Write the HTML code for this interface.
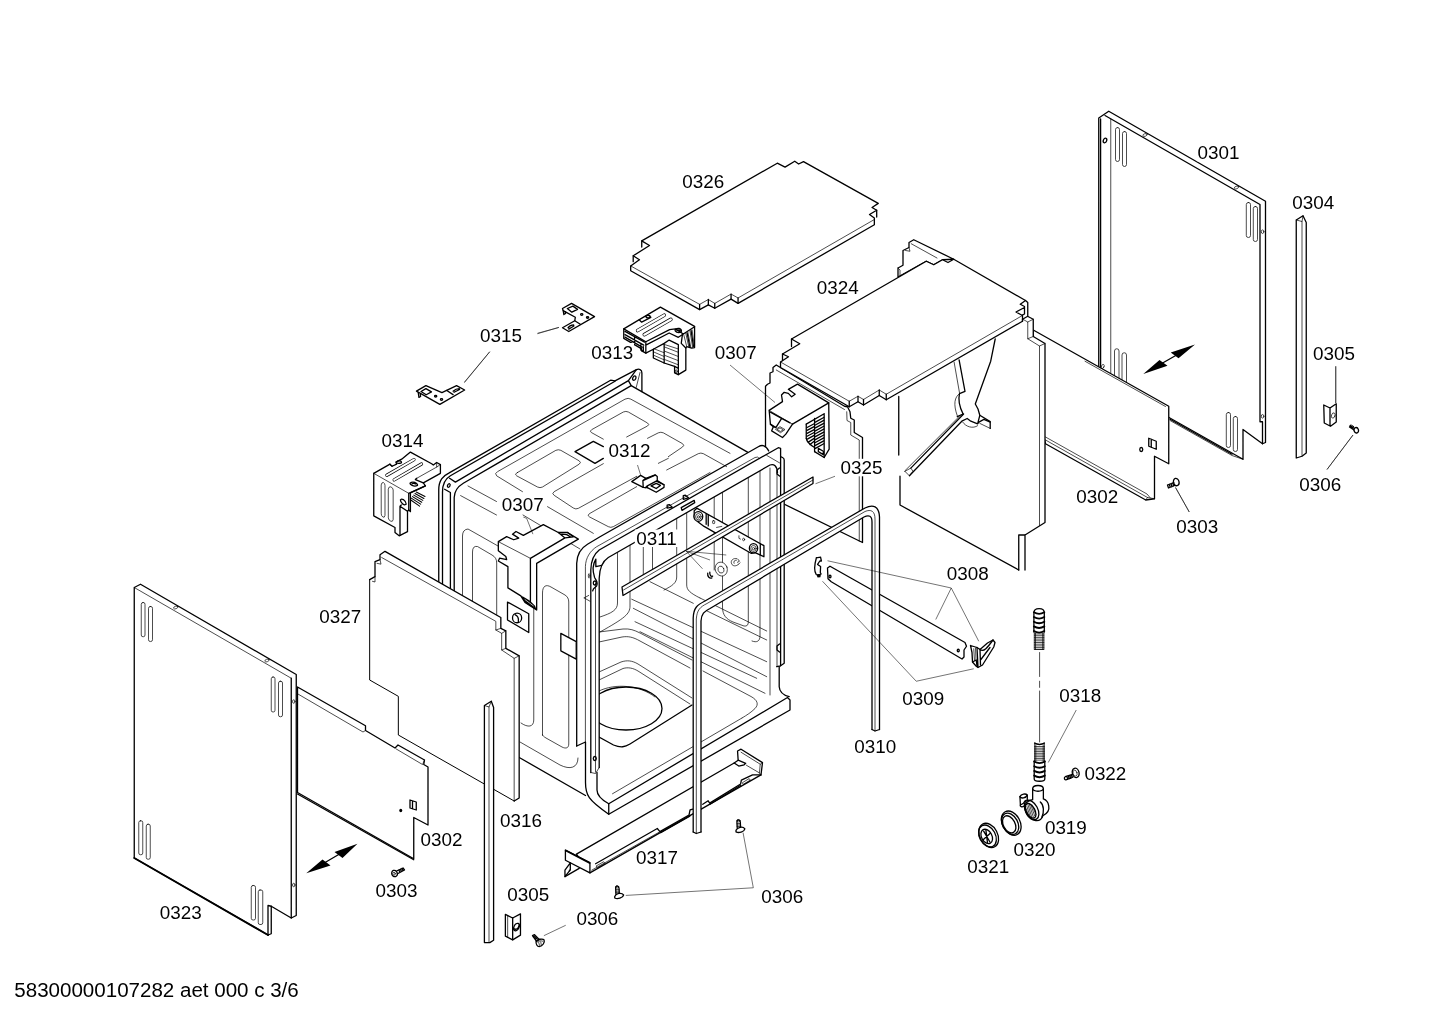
<!DOCTYPE html>
<html><head><meta charset="utf-8"><title>Parts diagram</title>
<style>
html,body{margin:0;padding:0;background:#fff;}
svg{display:block;}
.k{fill:none;stroke:#000;stroke-width:1.3;vector-effect:non-scaling-stroke;stroke-linejoin:round;stroke-linecap:round;}
.n{fill:none;stroke:#000;stroke-width:0.7;vector-effect:non-scaling-stroke;stroke-linejoin:round;stroke-linecap:round;}
.l{fill:none;stroke:#000;stroke-width:0.55;vector-effect:non-scaling-stroke;}
.w{fill:#fff;}
.so{fill:none;stroke:#000;stroke-linecap:round;vector-effect:non-scaling-stroke;}
.si{fill:none;stroke:#fff;stroke-linecap:round;vector-effect:non-scaling-stroke;}
.b{fill:#000;stroke:none;}
text{font-family:"Liberation Sans",sans-serif;font-size:18.5px;fill:#000;}
</style></head>
<body>
<svg width="1442" height="1019" viewBox="0 0 1442 1019">
<rect width="1442" height="1019" fill="#fff"/>
<!--P1-->
<!-- 0326 top plate : view origin (620,150) scale 1/5.15 -->
<g transform="translate(620 150) scale(0.19417)">
<path class="k" d="M55,597 L100,565 L68,545 L152,492 L112,468 L810,68 L850,88 L900,58 L920,72 L945,60 L1330,275 L1298,296 L1322,310 L1285,332 L1310,350 L1310,385 L608,790 L572,768 L488,815 L455,798 L410,822 L55,622 Z"/>
<path class="n" d="M55,597 L410,795 L455,770 L488,790 L572,742 L608,762 L1310,358"/>
<path class="k" d="M410,795 V822 M455,770 V798 M488,790 V815 M572,742 V768 M608,762 V790 M1322,310 V345 M112,468 V500 M68,545 V575"/>
</g>

<!-- 0301 right side panel (actual coords) -->
<g>
<path class="k" d="M1098.75,367 V118 L1108.75,111.25 L1265.5,201.25 V442.5 L1262.5,443.75 L1243,429.5 V459.25 L1169,417.5"/>
<path class="k" d="M1100.6,368 V119"/>
<path class="k" d="M1105,115.5 L1260,204.5 V421.75 H1262.5 V443.75"/>
<path class="n" d="M1110.75,373 V119"/>
<path class="n" d="M1170,420.5 L1232,455.5 L1243,459.25"/>
<path class="k" d="M1170,419.3 L1232,454.3"/>
<!-- slots -->
<rect class="n" x="1115.5" y="127.5" width="4" height="34" rx="2"/>
<rect class="n" x="1122.5" y="131.5" width="4" height="35" rx="2"/>
<rect class="n" x="1246.3" y="202.5" width="4.2" height="35" rx="2"/>
<rect class="n" x="1253.3" y="206.5" width="4.2" height="35" rx="2"/>
<path class="n" d="M1114.5,377 V351 a2.2,2.2 0 0 1 4.5,0 V380 M1122,382 V355 a2.2,2.2 0 0 1 4.5,0 V385"/>
<rect class="n" x="1226.3" y="412.5" width="4.2" height="35" rx="2"/>
<rect class="n" x="1233.3" y="416.5" width="4.2" height="35" rx="2"/>
<ellipse class="k" cx="1105" cy="140.5" rx="1.6" ry="2.4" transform="rotate(25 1105 140.5)"/>
<ellipse class="n" cx="1145" cy="135" rx="2.2" ry="1.3" transform="rotate(-20 1145 135)"/>
<ellipse class="n" cx="1236.5" cy="187.5" rx="2.2" ry="1.3" transform="rotate(-20 1236.5 187.5)"/>
<ellipse class="n" cx="1262.6" cy="231.7" rx="1.3" ry="1.8"/>
<ellipse class="n" cx="1262.6" cy="416.3" rx="1.3" ry="1.8"/>
<ellipse class="n" cx="1102.7" cy="366.5" rx="1.3" ry="2.2" transform="rotate(25 1102.7 366.5)"/>
</g>

<!-- 0304 strip -->
<g>
<path class="k" d="M1296.25,220 V458 L1302,456.25 L1306.25,453 V222.5 L1303,215.75 Z"/>
<path class="n" d="M1302,221.5 V456 M1296.25,220 L1302,221.5 L1303,215.75"/>
</g>

<!-- view B: origin (1060,300) scale .25 : 0302R, 0303R, 0305R, 0306R, arrow -->
<g transform="translate(1060 300) scale(0.25)">
<!-- arrow -->
<path class="b" d="M333,296 L398,240 L430,263 Z M540,178 L443,210 L474,233 Z"/>
<path class="k" d="M400,258 L470,218"/>
<!-- 0305 clip -->
<path class="k" d="M1055,420 L1080,432 L1105,415 V488 L1082,505 L1057,492 Z M1080,432 V503"/>
<ellipse class="n" cx="1093" cy="462" rx="7" ry="11" transform="rotate(20 1093 462)"/>
<path class="l" d="M1103,265 V412"/>
<!-- 0306 screw -->
<ellipse class="k" cx="1185" cy="521" rx="9" ry="11" transform="rotate(-20 1185 521)"/>
<path class="k" d="M1160,503 L1178,514 M1158,508 L1176,520 M1164,500 l-5,8 M1169,503 l-5,8 M1174,506 l-5,8"/>
<path class="l" d="M1172,540 L1068,678"/>
<!-- 0303 screw -->
<ellipse class="k" cx="465" cy="728" rx="11" ry="15" transform="rotate(-15 465 728)"/>
<path class="k" d="M430,740 L455,730 M434,752 L458,742 M430,740 L434,752 M437,737 l4,12 M444,735 l4,12 M451,732 l4,12"/>
<path class="l" d="M462,750 L517,848"/>
</g>

<!--/P1-->
<!--P2-->
<!-- 0302 right : view C origin (860,300) scale .25 -->
<g transform="translate(860 300) scale(0.25)">
<path class="k w" d="M693,120 L1235,425 V655 L1178,625 V795 L1143,800 L742,575 L700,400 Z"/>
<path class="n" d="M742,548 L1148,776 L1160,790 M742,560 L1150,790 L1143,800 M1150,790 L1178,795"/>
<path class="n" d="M900,245 L1222,426"/>
<ellipse class="k" cx="1125" cy="598" rx="6" ry="8"/>
<path class="k" d="M1155,553 L1185,565 V597 L1155,585 Z M1165,557 V589"/>
</g>

<!-- 0324 : view D origin (750,220) scale .25 -->
<g transform="translate(750 220) scale(0.25)">
<!-- left wall (front-left) -->
<path class="k w" d="M105,580 L92,590 V607 L80,612 V652 L70,657 L62,665 V1100 L450,1290 V870 L417,850 V800 L403,793 L400,767 L390,747 L378,745 Z"/>

<path class="n" d="M437,1285 V880 L403,860 V810 L388,802 L387,767"/>
<path class="n" d="M105,600 L378,758"/>
<!-- back wall inner face + column fill -->
<path class="w" d="M595,700 V1135 L1075,1400 H1100 V1260 L1180,1210 V494 L1133,466 V397 L1110,385 L1090,381 Z"/>
<path class="k" d="M595,706 V940 M600,1025 V1140 L1075,1400"/>
<!-- rear wall top piece -->
<path class="k w" d="M592,228 V192 L612,181 V122 L636,110 V90 L655,79 L815,157 L770,159 L735,179 L705,165 Z"/>
<path class="n" d="M645,95 L748,152 M636,110 L640,125 L622,122 M592,192 L600,200 V222"/>
<!-- end column (right) -->
<path class="k" d="M1110,385 L1133,397 V466 L1180,494 V1210 L1100,1260 H1075 V1400 M1100,1260 V1400"/>
<path class="n" d="M1093,398 L1111,408 V475 L1158,504 V1222 M1111,408 L1133,397 M1111,475 L1133,466 M1158,504 L1180,494"/>
<!-- top plate -->
<path class="k w" d="M122,568 L154,547 L130,536 L199,495 L166,476 L705,165 L735,179 L770,159 L792,170 L815,157 L1102,322 L1111,330 V385 L1090,397 V405 L545,719 L517,702 L454,740 L432,727 L397,747 L122,590 Z"/>
<path class="k" d="M1102,322 L1081,337 L1098,346 V376 L1088,381 L1064,368 L1098,350"/>
<path class="n" d="M122,568 L397,725 L432,705 L454,718 L517,680 L545,697 L1088,383"/>
<path class="k" d="M397,725 V747 M432,705 V727 M454,718 V740 M517,680 V702 M545,697 V719 M1090,381 V405 M166,476 V506 M130,536 V562"/>
</g>
<!-- 0324 inner features (actual coords) -->
<g>
<path class="n" d="M954.1,362.1 L959.5,392.8 M959.5,393.7 C954.6,397 953,404 957.3,415.8 M904.9,470.8 L959.5,416.2 M962.7,422.1 C966,427 973,429 977.6,425.7 M979.8,423.4 L990.2,428.4"/>
<path class="k" d="M959.1,359.8 L965,391.4 L959.5,393.7 C958,400 960,408 963.1,414 L957.3,416.7"/>
<path class="k" d="M995.2,339 L990.7,361.2 L975.3,404 L978,409 L979.8,415.3 L990.2,421.6 V428.4"/>
<path class="k" d="M910.8,468.1 L963.6,414 M909.4,475.8 L961.8,421.2 L967.2,418.5 L970.8,421.2 L977.6,423.9 L978.9,422.1 L983.9,419.4 L990.2,422.1 M977.6,423.9 L979.8,415.3"/>
<path class="n" d="M904.9,471.3 L909.4,475.8 L913,471.3 L910.8,468.1 L904.9,471.3"/>
</g>

<!--/P2-->
<!--S2-->
<!-- 0307 top : view S2 origin (755,360) scale 1/12 -->
<g transform="translate(755 360) scale(0.08333)">
<path class="w" d="M170,605 L330,500 L318,420 L350,388 L400,400 L440,442 L482,412 L400,352 L510,290 L885,515 L890,1070 L830,1170 L715,1100 L615,940 V770 L450,770 L370,890 L330,930 L200,850 L220,800 L185,770 Z"/>
<path class="k" d="M450,770 L370,890 L330,930 L200,850 L220,800 L185,770 L170,605 L330,500 L318,420 L350,388 L400,400 L440,442 L482,412 L400,352 L510,290 L885,515 L890,1070 L830,1170 L715,1100 M615,940 V770"/>
<path class="n" d="M450,770 L170,605"/>
<path class="k" d="M885,515 L450,770 M715,700 V1100 M830,645 V1170 M615,770 L830,645"/>
<path class="k" d="M185,770 L250,812 L320,700 L420,755 M250,812 L220,800 M320,700 L185,625"/>
<path class="n" d="M250,830 L300,800 L360,835 L310,870 Z M268,832 L300,815 L340,838 L310,855 Z"/>
<path class="k" d="M615,940 C620,980 650,1010 715,1050"/>
<path class="k" d="M625,810 L710,765 M625,845 L710,800 M625,880 L710,835 M625,915 L710,870 M628,950 L710,905 M640,985 L710,940 M660,1015 L710,975 M725,745 L825,690 M725,780 L825,725 M725,815 L825,760 M725,850 L825,795 M725,885 L825,830 M725,920 L825,865 M725,955 L825,900 M725,990 L825,935 M725,1025 L825,970 M725,1060 L825,1005"/>
<path class="k" d="M760,1060 L820,1095 V1135 L760,1100 Z"/>
</g>

<!--/S2-->

<!--TUB-->
<!-- TUB body -->
<g>
<!-- white silhouette -->
<path class="w" d="M438.75,700 V490 C438.75,480 443,476 449.2,472.9 L610.6,380.2 L636.4,369.7 L641.9,373 V390 L747.5,452.1 L768.75,446 L780.4,448.3 L784.2,460 V663.3 L779.2,667 V686.7 L789.2,696.7 V707.5 L608.75,814.25 L590,800 L519,757 Z"/>
<!-- rear-left flange -->
<path class="k" d="M438.75,700 V490 C438.75,480 443,476 449.2,472.9 L610.6,380.2 L615,380.8 L636.4,369.7 C639,368.5 641.9,369.5 641.9,373 V391.5"/>
<path class="k" d="M442.5,700 V492 C442.5,484 445,479 450.4,475.8 L615,381.2"/>
<path class="k" d="M449.6,478.3 L455.4,482.1 L628.4,380.6 L636.4,369.7 M628.4,380.6 L631.2,385.6"/>
<path class="k" d="M454.2,700 V497.5 C454.5,490 458,486.5 463.3,483.3 L631.2,385.6 L747.5,452.1"/>
<path class="k" d="M450.4,700 V492.5 L444.6,489.2"/>
<ellipse class="k" cx="448.8" cy="485.5" rx="1.2" ry="1.9" transform="rotate(25 448.8 485.5)"/>
<ellipse class="k" cx="634.3" cy="378.1" rx="1.5" ry="2.3" transform="rotate(25 634.3 378.1)"/>
<path class="n" d="M640,372.5 L636.2,387.5"/>
<!-- front frame -->
<path class="k" d="M576.7,746 V563.3 C577,553 581,548 587.5,544.2 L600,536.7 L758.3,446.7 C762,444.5 766,445 768.75,451"/>
<path class="n" d="M585.4,743 V566.7 C585.6,558 590,551 596.7,546.7 L755,457.5 Q758,456 759.5,458.5"/>
<path class="k" d="M590.8,772.5 V570 C591,560 594,554 599.2,550 L778.3,447.7 L780.6,448.3 V665.8"/>
<path class="k" d="M599.2,767.5 V578.3 C599.5,568 603,561 608.3,557.5 L770,465 C774,463.5 777,466 777.5,472.5"/>
<path class="n" d="M777,472 V666.7 M766.7,455.4 L779.6,462.9"/>
<path class="k" d="M780.6,456.7 L782.5,457.5 C783.6,458 784.2,459 784.2,460 V663.3 L780.6,665.8 L776.7,666.7"/>
<path class="n" d="M595.5,583 V772 M590.8,772.5 L595.5,773.5 L599.2,767.5"/>
<ellipse class="k" cx="594.8" cy="583" rx="1.5" ry="2"/>
<ellipse class="k" cx="594.8" cy="758.5" rx="1.5" ry="2"/>
<path class="k" d="M779.5,644 l-2.5,2 l0,4 l2.5,2 M779.5,468 l-2.5,2 l0,4 l2.5,2"/>
<!-- lower left column + base -->
<path class="k" d="M576.7,746 L585.5,742 V782.5 C585.5,795 588,800 608.75,814.25 L790,710 V700 L787.5,697.5 L608.75,803.75 C600,799 597,795 597,790 V772.5"/>
<path class="k" d="M608.75,803.75 V814.25 M779.2,666.7 V686.7 C779.5,692 783,695 789.2,696.7"/>
<path class="n" d="M612.5,793.75 L742,718"/>
<!-- side bottom edge -->
<path class="k" d="M519.25,757.5 L585.5,795.5"/>
<!-- side panels (thin) -->
<path class="n" d="M518,575 C528,580 533.75,578 533.75,590 V720 C533.75,727 528,728 521,723"/>
<path class="n" d="M542.5,735 V593 C542.5,586 546,584 551,587 L565,595 C567.5,596.5 568.75,599 568.75,602 V744 C568.75,748 566,749 562,747 L546,738 C543.5,736.5 542.5,735.5 542.5,735 Z"/>
<path class="n" d="M520,742 L560,765 C570,770 578,768 578,758"/>
<!-- thin top-left borders -->
<path class="n" d="M468,486 L496.5,501.5 M523,515 L580,549 M460.6,495.6 L496.5,515"/>
</g>
<!-- side panel extra -->
<g>
<path class="n" d="M462.5,640 V536 Q462.5,529.5 468,529 L528,563 M472.5,640 V552 Q472.5,545.5 477.5,546.5 L492,555 Q496.7,557.5 496.7,563 V640"/>
</g>
<!-- hinge details : view T5a origin (560,520) scale 1/12 -->
<g transform="translate(560 520) scale(0.08333)">
<path class="k" d="M430,470 V560 L500,545 M430,470 C400,520 385,600 415,690 C440,730 455,750 440,790 C425,810 400,810 392,850"/>
<ellipse class="n" cx="350" cy="670" rx="10" ry="28"/>
<path class="n" d="M290,935 L360,975 M290,935 L345,905"/>
</g>
<!-- top-surface thin panels : view T6 origin (470,385) scale 1/6 -->
<g transform="translate(470 385) scale(0.16667)">
<path class="n" d="M740,890 L465,730 M315,640 L160,545 Q145,530 165,520 L930,85 Q950,75 965,85 L1560,410"/>
<path class="n" d="M285,525 L515,392 Q530,385 545,392 L655,455 Q670,465 655,475 L435,612 Q420,620 405,612 L280,545 Q265,535 285,525 Z"/>
<path class="k" d="M800,370 L740,338 L630,400 L750,470 L800,440"/>
<path class="n" d="M800,325 L728,285 Q715,277 730,268 L920,162 Q935,155 950,162 L1065,228 Q1080,238 1065,246 L940,312"/>
<path class="n" d="M1065,320 L1130,287 Q1145,280 1160,287 L1275,352 Q1290,362 1275,372 L1190,430"/>
<path class="n" d="M800,472 L505,640 Q488,652 505,662 L620,738 Q635,748 650,740 L1000,548 M1130,470 L1190,440"/>
<path class="n" d="M1000,610 L720,770 Q700,782 718,792 L830,850 Q845,858 860,850 L1440,525 M1180,510 L1370,412 Q1385,405 1400,412 L1540,490"/>
</g>
<!-- tub interior (clipped to opening) -->
<defs><clipPath id="open"><path d="M599.2,578 C599.5,568 603,561 608.3,557.5 L770,465 C774,463.5 777,466 777.5,472.5 V666 L779,687 L787,697.5 L608.75,803.75 L597,790 V770 L599.2,767 Z"/></clipPath></defs>
<g clip-path="url(#open)">
<!-- back wall vertical panel lines -->
<path class="n" d="M617.5,540 V603 C617.5,610 612,613 600,617 M630,530 V606 C630,614 625,618 600,632"/>
<path class="n" d="M643.3,520 V583 M652.5,515 V578 M676.7,505 V577 C676.7,583 672,586 664,590 M686.7,500 V585 C686.7,590 690,593 700,598"/>
<path class="n" d="M714.2,485 V570 M722.5,480 V607 C722.5,615 726,619 733,622 L744,626 C747,626.5 748.3,625 748.3,622 V468"/>
<path class="n" d="M760,465 V636 C760,641 757,643 752,641 M770,468 V695"/>
<!-- ribs -->
<path class="n" d="M650,581.7 L693.3,603.3 M631.7,599.2 L766.7,661.7 M633.3,608.3 L766.7,676.7 M635,621.7 L756.7,678.3 M640,631.7 L765,693.3 M700,598 L766.7,631 M703,609 L766.7,640"/>
<!-- floor -->
<path class="n" d="M599,632 L623,629 C630,628.5 634,630 640,633 L692,660 M599,642 L622,637 C628,636 633,637 640,641 L690,668"/>
<path class="n" d="M599,672 L621,662 C627,660 632,660.5 638,664 L692,698 M599,680 L623,668.5 C628,667 633,668 638,671 L690,704"/>
<path class="k" d="M599,737 L613.5,745 C621,748 625,747 630,744 L692,705"/>
<path class="n" d="M703,671 L751,696.5 C757.5,700 759,704.5 755,708.5 C751,712.5 747,715 742,718"/>
<ellipse class="k" cx="626" cy="708.5" rx="36" ry="21.5"/>
<path class="n" d="M599,691 C615,683 640,685 655,697"/>
</g>

<!--/TUB-->
<!--P3-->
<!-- 0327 : view M1 origin (350,530) scale 1/6 -->
<g transform="translate(350 530) scale(0.16667)">
<path class="w" d="M118,298 L150,280 V190 L180,178 V148 L210,128 L905,525 V590 L935,605 V710 L1015,755 V1608 L985,1626 L290,1230 V998 L118,900 Z"/>
<path class="k" d="M118,298 L150,280 V190 L180,178 V148 L210,128 L905,525 V590 L935,605 V710 L1015,755 V1608 L985,1626"/>
<path style="stroke-width:1" class="n" d="M985,1626 L290,1230 V998 L118,900 V298"/>
<path class="n" d="M190,165 L875,548 V600 L910,620 V720 L985,770 V1626 M875,600 L905,590 M910,620 L935,605 M910,720 L935,710 M985,770 L1015,755"/>
<path class="n" d="M150,280 V312 L135,308 M180,178 L186,205 L162,200"/>
</g>
<!-- 0302 left : view L1 origin (110,560) scale .25 -->
<g transform="translate(110 560) scale(0.25)">
<path class="k w" d="M750,508 L1022,663 V682 L1140,752 L1152,740 L1258,800 L1255,818 L1272,828 V1060 L1215,1030 V1195 L750,930 Z"/>
<path class="k" d="M750,936 L1215,1199"/>
<path class="n" d="M750,535 L1012,688 L1022,682 M1145,756 L1250,818 L1258,800"/>
<ellipse class="b" cx="1163" cy="1002" rx="6" ry="7"/>
<path class="k" d="M1200,960 L1225,968 V1000 L1200,992 Z M1210,964 V995"/>
<!-- 0323 -->
<path class="k w" d="M97,110 L122,97 L745,458 V1422 L725,1432 L645,1385 V1495 L632,1500 L97,1192 Z"/>
<path class="k" d="M725,473 V1432 M632,1382 V1500 M632,1382 L645,1385"/>
<path class="k" style="stroke-width:1.9" d="M97,1192 L632,1500"/>
<path class="n" d="M97,110 L725,473"/>
<rect class="n" x="125" y="170" width="15" height="137" rx="7"/>
<rect class="n" x="154" y="186" width="16" height="140" rx="7"/>
<rect class="n" x="645" y="468" width="15" height="140" rx="7"/>
<rect class="n" x="674" y="485" width="16" height="142" rx="7"/>
<rect class="n" x="115" y="1043" width="16" height="136" rx="7"/>
<rect class="n" x="145" y="1057" width="16" height="140" rx="7"/>
<rect class="n" x="565" y="1302" width="17" height="138" rx="7"/>
<rect class="n" x="593" y="1320" width="18" height="138" rx="7"/>
<ellipse class="n" cx="263" cy="190" rx="9" ry="5" transform="rotate(-20 263 190)"/>
<ellipse class="n" cx="628" cy="402" rx="9" ry="5" transform="rotate(-20 628 402)"/>
<ellipse class="n" cx="735" cy="566" rx="5" ry="7"/>
<ellipse class="n" cx="735" cy="1300" rx="5" ry="7"/>
<!-- arrow L -->
<path class="b" d="M785,1253 L850,1198 L882,1222 Z M990,1135 L898,1168 L930,1192 Z"/>
<path class="k" d="M855,1213 L920,1175"/>
<!-- 0303 L screw -->
<ellipse class="k" cx="1138" cy="1254" rx="11" ry="13" transform="rotate(-20 1138 1254)"/>
<ellipse class="n" cx="1136" cy="1255" rx="5" ry="6"/>
<path class="k" d="M1148,1243 L1172,1232 L1178,1240 L1152,1254 M1155,1240 l5,9 M1161,1237 l5,9 M1167,1234 l5,9"/>
</g>

<!--/P3-->
<!--SM-->
<!-- 0313 : view S1 origin (600,298) scale 1/12 -->
<g transform="translate(600 298) scale(0.08333)">
<path class="k w" d="M285,370 L725,110 L1135,340 V595 L1100,602 L1040,585 L1030,600 V865 L940,920 L895,898 V820 L770,780 L640,720 V615 L550,662 L500,635 V610 L285,485 Z"/>
<path class="k" d="M285,370 L550,525 V662 M550,565 L830,420 L940,472 L1000,432 L1135,345 M550,525 L835,380 L905,370 L1000,432"/>
<path class="k" d="M640,615 L770,545 V780 M770,545 L830,505 L940,560 V920 M1030,600 L975,545 L990,430 M895,820 L940,845"/>
<path class="n" d="M780,590 L935,650 M780,640 L935,700 M780,690 L935,750 M780,740 L935,800 M650,650 L765,700 M650,690 L765,740 M650,610 L765,655 M780,560 L935,610"/>
<path class="n" d="M1005,440 L1040,580 M1030,425 L1065,585 M1055,412 L1090,592 M1080,398 L1112,592 M1105,382 L1130,560"/><path class="k" d="M1045,418 L1078,588 M1093,390 L1122,580"/>
<path class="so" stroke-width="3.6" d="M452,390 L770,207 M532,440 L850,257"/><path class="si" stroke-width="2.3" d="M452,390 L770,207 M532,440 L850,257"/>
<path class="k" d="M470,262 L500,290 L610,232 L590,212 M548,222 Q570,200 600,215 Q610,235 580,240 Q555,240 548,222"/>
<path class="k" d="M900,385 Q910,360 950,365 Q985,380 975,405 Q950,420 920,410 Q900,400 900,385 M925,390 Q940,378 960,390"/>
<path class="k" d="M300,400 L535,530 M300,440 L525,565 M300,470 L505,590 M415,465 V540 M490,560 V625 L520,640 V585"/>
<ellipse class="n" cx="915" cy="880" rx="12" ry="18"/>
</g>
<!-- 0314 : view S4 origin (360,425) scale 1/12 -->
<g transform="translate(360 425) scale(0.08333)">
<path class="k w" d="M165,580 L360,470 L385,495 L440,470 L430,445 L500,410 L605,325 L860,465 L880,480 L920,450 L965,475 V580 L760,695 L785,730 L605,815 V1040 L585,1020 L570,1035 V1280 L470,1330 L420,1290 V1230 L165,1090 Z"/>
<path class="k" d="M760,695 L665,655 L680,640 M585,820 V1020 M585,820 L785,730"/>
<path class="n" d="M165,580 L585,820 M680,640 L920,505 L965,475 M920,505 V450"/>
<path class="k" d="M480,975 V1325 M480,975 L570,1035 M480,975 L495,960"/>
<path class="so" stroke-width="3.2" d="M322,603 L648,415 M410,658 L738,468"/><path class="si" stroke-width="2.0" d="M322,603 L648,415 M410,658 L738,468"/>
<path class="n" d="M255,715 Q260,685 280,690 Q300,700 300,725 V1085 Q295,1115 275,1105 Q255,1090 255,1070 Z M340,765 Q345,735 370,742 Q398,755 398,780 V1135 Q392,1165 370,1155 Q340,1140 340,1120 Z"/>
<path class="k" d="M600,700 Q620,680 660,690 Q695,705 690,725 Q660,740 625,725 Q600,715 600,700 M625,705 Q645,695 670,708"/>
<path class="k" d="M485,900 Q495,880 520,895 Q555,920 555,950 Q540,965 515,950 Q485,925 485,900"/>
<path class="k" d="M440,445 Q450,425 480,430 Q505,440 495,455 Q470,465 450,458 M360,470 Q365,485 385,495"/>
<path style="stroke-width:1.05" class="k" d="M675,805 L780,858 M660,823 L767,881 M645,841 L754,904 M630,859 L741,927 M615,877 L728,950 M605,897 L715,973"/>
</g>

<!-- 0315 x2 : view S5 origin (405,295) scale 1/7.175 -->
<g transform="translate(405 295) scale(0.13937)">
<path class="k w" d="M1130,97 L1195,60 L1360,155 L1175,262 L1130,235 L1218,185 L1222,160 L1135,112 Z"/>
<path class="k" d="M1165,97 L1205,80 L1238,103 L1197,123 Z M1218,185 L1258,210 M1135,112 L1140,140 L1152,133 L1150,120"/>
<ellipse class="k" cx="1268" cy="140" rx="8" ry="6"/><ellipse class="k" cx="1310" cy="161" rx="8" ry="6"/>
<path class="k" d="M1170,235 Q1185,215 1210,215 M1175,245 Q1195,232 1212,222"/>
<path class="k w" d="M82,690 L150,650 L265,700 L370,650 L428,682 L250,785 Z"/>
<path class="k" d="M115,692 L150,672 L190,695 L152,716 Z M300,685 L345,715 M95,700 L100,735 L112,728 L110,712"/>
<ellipse class="k" cx="220" cy="726" rx="8" ry="6"/><ellipse class="k" cx="262" cy="750" rx="8" ry="6"/>
<path class="k" d="M345,690 Q365,672 390,672 M352,698 Q372,688 392,678"/>
<path class="l" d="M950,278 L1105,232 M610,405 L425,630"/>
</g>
<!-- 0307 mid bracket + bolt plate + rect : view S6 origin (490,510) scale 1/12 -->
<g transform="translate(490 510) scale(0.08333)">
<path class="k w" d="M210,1105 L465,1245 V1470 L210,1320 Z"/>
<ellipse class="k" cx="325" cy="1295" rx="55" ry="58"/>
<path class="k" d="M300,1255 Q350,1275 340,1340"/>
<path class="k w" d="M850,1480 L1035,1580 V1790 L850,1690 Z"/>
<path class="k w" d="M100,380 L200,320 L285,357 L345,338 L270,290 L312,258 L400,305 L640,175 L820,270 L930,270 L1060,350 L560,640 V1200 L420,1110 L370,1030 L215,935 V680 L100,612 L115,578 L200,595 L190,558 L100,490 Z"/>
<path class="k" d="M900,335 L485,580 V1100 M820,270 L900,335 L1000,322 L930,270 M860,290 L920,295 L960,318"/>
<path class="n" d="M110,385 L485,580"/>
<path class="b" d="M370,1030 L420,1110 L560,1200 L540,1150 L480,1090 L400,1040 Z"/>
<path class="n" stroke="#fff" d="M420,1075 L520,1150" style="stroke:#fff"/>
<path class="l" d="M440,100 L515,290 M440,100 L400,85"/>
</g>
<!-- 0312, slot, 0311 : view S7 origin (625,465) scale 1/9.61 -->
<g transform="translate(625 465) scale(0.10406)">
<!-- 0311 bar (drawn before 0325 strip) -->
<path class="k w" d="M690,415 L1335,775 V882 L1250,842 L1215,850 L760,590 L700,545 L665,500 L665,440 Z"/>
<path class="k" d="M780,470 V570 M800,480 V585 M1300,760 V862"/>
<ellipse class="k w" cx="705" cy="495" rx="42" ry="46"/><ellipse class="n" cx="705" cy="497" rx="27" ry="30"/><ellipse class="n" cx="705" cy="499" rx="11" ry="12"/>
<ellipse class="k w" cx="1235" cy="800" rx="40" ry="44"/><ellipse class="n" cx="1235" cy="802" rx="26" ry="29"/><ellipse class="n" cx="1235" cy="804" rx="11" ry="12"/>
<rect class="n" x="842" y="535" width="20" height="28" rx="6"/>
<ellipse class="n" cx="1140" cy="716" rx="10" ry="12"/>
<path class="n" d="M1095,680 V705 L1110,712 M880,600 L930,590"/>
<!-- washer, U, C -->
<ellipse class="n w" cx="925" cy="1000" rx="58" ry="68" transform="rotate(-20 925 1000)"/>
<ellipse class="n" cx="922" cy="1005" rx="28" ry="34" transform="rotate(-20 922 1005)"/>
<path class="k" d="M795,1040 C790,1075 815,1095 835,1085 M815,1030 C812,1060 828,1075 842,1068"/>
<path class="n" d="M1075,900 C1040,890 1010,920 1025,950 C1035,975 1070,975 1090,955 M1070,915 C1050,912 1040,930 1048,945 M1085,905 L1100,925 L1080,935 M1090,955 L1105,940"/>
<!-- slot + arrows -->
<path class="k w" d="M540,410 L665,340 L670,362 L548,436 Z"/>
<path class="k" d="M405,385 L425,380 L455,405 L405,415 Z M560,295 L580,290 L610,315 L560,330 Z"/>
<!-- 0312 -->
<path class="k w" d="M65,160 L150,100 L200,128 L290,95 L310,110 V150 L375,190 V215 L300,262 L215,218 L195,218 L175,215 Z"/>
<path class="k" d="M200,128 L172,150 L175,215 M172,150 L290,98 M195,218 L215,200 L300,155 L375,190 M215,200 V218 M250,200 L300,176 L340,196 L300,226 Z M310,150 L300,155"/>
<path class="l" d="M120,0 L150,95"/>
</g>

<!--/SM-->
<!--P5-->
<!-- 0316 strip -->
<g>
<path class="k w" d="M484.4,705.5 L491.3,701.2 L493.6,707.5 V940.3 L489.8,942.6 L484.4,942.6 Z"/>
<path class="n" d="M489,707 V942 M484.4,705.5 L489,707 L491.3,701.2"/>
</g>
<!-- 0305 L clip : view N3 origin (470,880) scale 1/9.61 -->
<g transform="translate(470 880) scale(0.10406)">
<path class="k w" d="M340,330 L410,365 L485,325 V530 L410,575 L340,540 Z"/>
<path class="k" d="M410,365 V575"/>
<path class="n" d="M362,345 V550"/>
<ellipse class="k" cx="447" cy="452" rx="24" ry="38" transform="rotate(25 447 452)"/>
<path class="k" d="M425,470 C445,480 465,465 470,440"/>
<!-- 0306 bottom screw -->
<path class="k w" d="M635,590 C640,570 700,560 712,575 C720,600 700,635 665,640 C645,640 632,615 635,590 Z"/>
<path class="k" d="M600,535 L620,525 L665,572 L640,590 Z M608,548 l16,-10 M618,558 l16,-10 M628,568 l16,-10"/>
<path class="n" d="M650,595 C655,585 690,580 700,588 M660,600 L668,628 M680,595 L685,625"/>
<path class="l" d="M710,535 L920,435"/>
</g>
<!-- 0317 rail : view N2 origin (555,740) scale 1/6.53 -->
<g transform="translate(555 740) scale(0.15314)">
<path class="k w" d="M140,745 L1170,150 L1196,132 L1192,72 L1215,60 L1355,148 L1345,228 L228,868 Z"/>
<path class="k" d="M1170,150 L1200,170 L1235,162 L1245,152 L1196,132"/>
<path class="n" d="M1215,80 L1340,158 M1250,165 L1335,215 L1345,228 M1355,148 L1340,158 L1335,215"/>
<path class="k" d="M265,808 L668,578 L685,598 L875,490 L882,457 L900,452 M965,420 L1000,397 L1010,412 L1212,287 L1217,262 L1290,228 L1345,228"/>
<path class="k" d="M690,605 L880,497 M1012,420 L1212,295"/>
<path class="n" d="M240,850 L680,602 M270,822 L318,795 L326,806 L280,832 Z M1225,278 L1268,252 L1275,262 L1232,288 Z"/>
<path class="k w" d="M68,718 L228,800 V868 L68,785 Z"/>
<path style="stroke-width:1.8" class="k" d="M70,722 L226,803"/>
<path class="k w" d="M100,802 V848 L65,892 V850 Z"/>
<path class="k" d="M65,892 L158,838"/>
<ellipse class="b" cx="95" cy="852" rx="5" ry="7"/>
<!-- 0306 screws -->
<g id="scr">
<path class="k w" d="M1182,590 C1190,570 1225,560 1240,580 C1235,600 1200,610 1182,600 Z"/>
<path class="k" d="M1190,575 L1188,535 C1186,518 1208,518 1210,535 L1212,570"/>
<ellipse class="n" cx="1198" cy="527" rx="10" ry="8"/>
<path class="n" d="M1189,545 h22 M1189,555 h22 M1189,565 h22"/>
</g>
<use href="#scr" x="-792" y="432"/>
<path class="l" d="M1228,605 L1295,965 L462,1015"/>
</g>
<!-- 0325 strip -->
<g>
<path class="k w" d="M622,587 L813,477 V483.5 L623,595.5 Z"/>
<path class="n" d="M623.5,590 L813,480"/>
</g>
<!-- view R1 origin (790,530) scale .25 : 0308, 0309 -->
<g transform="translate(790 530) scale(0.25)">
<path class="k w" d="M160,145 L700,450 L706,465 L696,480 L696,508 L688,516 L165,207 L152,195 L150,152 Z"/>

<ellipse class="k" cx="160" cy="186" rx="4" ry="5"/>
<ellipse class="k" cx="673" cy="482" rx="4" ry="5"/>
<!-- 0309 left clip -->
<g transform="scale(4) translate(-790 -530)">
<path class="k" d="M816.4,557.7 C814.3,565 814,571 816.2,574.5 M820.6,557.4 L821.4,561 L819.8,561 L817.6,564.4 L820.6,566.6 L820.3,572.5 L821.1,574 M816.2,557.8 L820.6,557.2"/>
<path class="k b" style="fill:#000" d="M816.2,574.3 L821,573.8 L820.4,577.2 L817.6,577.4 Z"/>
</g>
<!-- 0309 right clip -->
<path class="k w" d="M722,462 L748,470 L760,478 L790,452 L812,440 L820,450 L815,468 L770,540 L752,550 L745,545 L730,528 L728,490 Z"/>
<path class="k" d="M748,470 L752,548 M760,478 L762,540 M760,478 C775,490 790,470 812,440 M762,520 L800,470 M730,528 L745,520 L748,545"/>
<path class="n" d="M735,475 L738,522 M742,472 L744,520"/>
</g>
<!-- 0310 gasket -->
<g>
<path class="w" d="M693.2,832 V618 C693.5,608 697,605 705,601 L865,508 C873,504 879,506 879.5,517 V729.5 L875,731 L872,729.5 V522 C872,516 869,514.5 864,517 L710,608.5 C704,611.5 701.5,613.5 701,621 V832 L696.3,833.5 Z"/>
<path class="k" d="M693.2,832 V618 C693.5,608 697,605 705,601 L865,508 C873,504 879,506 879.5,517 V729.5"/>
<path class="n" d="M696.3,833.5 V619 C697,610 700,607 707,603.5 L865,511.5 C871,509 875,511 875,519 V731"/>
<path class="k" d="M701,832 V621 C701.5,613.5 704,611.5 710,608.5 L864,517 C869,514.5 872,516 872,522 V729.5"/>
<path class="k" d="M693.2,832 L696.3,833.5 L701,832 M872,729.5 L875,731 L879.5,729.5"/>
</g>

<!--/P5-->
<!--P4-->
<!-- 0318 hose -->
<g>
<path class="k w" d="M1033.8999999999999,632 V613 C1033.8999999999999,609 1036.1,608.7 1039.1,608.7 C1042.1,608.7 1044.3,609 1044.3,613 V632"/>
<path class="n w" d="M1034.3,632 V649.5 H1043.8999999999999 V632"/>
<path style="stroke-width:1.9" class="k" d="M1033.8999999999999,612.3 Q1039.1,615.5 1044.3,612.3"/>
<path style="stroke-width:1.9" class="k" d="M1033.8999999999999,617.0 Q1039.1,620.2 1044.3,617.0"/>
<path style="stroke-width:1.9" class="k" d="M1033.8999999999999,621.7 Q1039.1,624.9000000000001 1044.3,621.7"/>
<path style="stroke-width:1.9" class="k" d="M1033.8999999999999,626.4 Q1039.1,629.6 1044.3,626.4"/>
<path style="stroke-width:1.9" class="k" d="M1033.8999999999999,631.0 Q1039.1,634.2 1044.3,631.0"/>
<path class="n" d="M1034.3,634.0 H1043.8999999999999"/>
<path class="n" d="M1034.3,635.7 H1043.8999999999999"/>
<path class="n" d="M1034.3,637.4 H1043.8999999999999"/>
<path class="n" d="M1034.3,639.1 H1043.8999999999999"/>
<path class="n" d="M1034.3,640.8 H1043.8999999999999"/>
<path class="n" d="M1034.3,642.5 H1043.8999999999999"/>
<path class="n" d="M1034.3,644.2 H1043.8999999999999"/>
<path class="n" d="M1034.3,645.9 H1043.8999999999999"/>
<path class="n" d="M1034.3,647.6 H1043.8999999999999"/>
<path class="n" d="M1034.3,649.3 H1043.8999999999999"/>
<path class="n" d="M1035.4999999999998,633 V649.5 M1042.7,633 V649.5"/>
<path class="n" d="M1039.6,652.5 V742" stroke-dasharray="60 4.7 6.2 3.6" stroke-dashoffset="36"/>
<path class="n w" d="M1034.6000000000001,761 V743 Q1039.5,746 1044.3999999999999,743 V761"/>
<path class="k" d="M1034.6000000000001,743 Q1039.5,746 1044.3999999999999,743"/>
<path class="n" d="M1034.6000000000001,746.5 H1044.3999999999999"/>
<path class="n" d="M1034.6000000000001,748.2 H1044.3999999999999"/>
<path class="n" d="M1034.6000000000001,749.9 H1044.3999999999999"/>
<path class="n" d="M1034.6000000000001,751.6 H1044.3999999999999"/>
<path class="n" d="M1034.6000000000001,753.3 H1044.3999999999999"/>
<path class="n" d="M1034.6000000000001,755.0 H1044.3999999999999"/>
<path class="n" d="M1034.6000000000001,756.7 H1044.3999999999999"/>
<path class="n" d="M1034.6000000000001,758.4 H1044.3999999999999"/>
<path class="n" d="M1034.6000000000001,760.1 H1044.3999999999999"/>
<path class="n" d="M1035.8,744.5 V761 M1043.2,744.5 V761"/>
<path class="k w" d="M1034.2,761 V779 C1034.2,782 1044.8,782 1044.8,779 V761"/>
<path style="stroke-width:1.9" class="k" d="M1034.2,761.5 Q1039.5,764.7 1044.8,761.5"/>
<path style="stroke-width:1.9" class="k" d="M1034.2,766.2 Q1039.5,769.4000000000001 1044.8,766.2"/>
<path style="stroke-width:1.9" class="k" d="M1034.2,770.9 Q1039.5,774.1 1044.8,770.9"/>
<path style="stroke-width:1.9" class="k" d="M1034.2,775.6 Q1039.5,778.8000000000001 1044.8,775.6"/>
</g>
<!-- view R2 origin (940,730) scale 1/6.53 : 0319,0320,0321,0322 -->
<g transform="translate(940 730) scale(0.15314)">
<!-- 0319 elbow -->
<path class="k w" d="M605,385 V455 C585,460 565,470 558,485 C545,530 575,585 625,592 C650,595 665,580 672,560 C700,545 715,520 710,495 C706,470 690,455 675,450 V385 C675,355 605,355 605,385 Z"/>
<path class="k" d="M605,385 C610,405 670,405 675,385"/>
<ellipse class="k" cx="598" cy="522" rx="40" ry="68" transform="rotate(-28 598 522)"/>
<ellipse class="k" cx="592" cy="528" rx="28" ry="52" transform="rotate(-28 592 528)"/>
<path class="n" d="M568,500 L590,570 M575,490 L600,572 M583,485 L610,570 M592,485 L618,560 M600,488 L625,550 M563,515 L580,565"/>
<path class="k" d="M655,470 C680,490 680,540 665,570"/>
<path class="k w" d="M522,435 C530,418 560,412 570,425 V455 C560,458 550,465 545,478 L525,490 Z"/>
<path class="k" d="M522,435 C530,450 560,445 570,425 M525,490 C520,500 535,505 548,498"/>
<!-- 0320 ring -->
<ellipse class="k w" cx="465" cy="608" rx="58" ry="84" transform="rotate(-28 465 608)"/>
<ellipse class="k" cx="458" cy="612" rx="50" ry="74" transform="rotate(-28 458 612)"/>
<ellipse class="k" cx="452" cy="616" rx="38" ry="60" transform="rotate(-28 452 616)"/>
<!-- 0321 cap -->
<ellipse class="k w" cx="318" cy="688" rx="58" ry="84" transform="rotate(-28 318 688)"/>
<ellipse class="k" cx="310" cy="692" rx="52" ry="76" transform="rotate(-28 310 692)"/>
<ellipse class="k" cx="305" cy="695" rx="34" ry="50" transform="rotate(-28 305 695)"/>
<path class="k" d="M285,660 L325,730 M330,672 L280,718 M300,655 L310,735"/>
<!-- 0322 screw -->
<ellipse class="k w" cx="886" cy="280" rx="22" ry="31" transform="rotate(-15 886 280)"/>
<ellipse class="n" cx="882" cy="282" rx="13" ry="20" transform="rotate(-15 882 282)"/>
<path class="k" d="M865,290 L818,305 C808,310 812,328 822,325 L868,308 M828,302 l6,20 M838,299 l6,20 M848,296 l6,20 M858,293 l5,17"/>
</g>


<!--/P4-->
<!--PARTS-->
<!--L-->
<g>
<path class="l" d="M1335.75,366.25 V403 M1353,435 L1327,469.5 M1175.5,487.5 L1189.25,512 M730,365 L775,402.5 M537.5,333.25 L558.75,327.5 M489.5,352 L464.5,382 M686.25,551.25 L726.25,555 M686.25,551.25 L710,560 M686.25,551.25 L702.5,568.75 M835,476.25 L815.5,483.75 M951.25,588 L827.5,560.75 M951.25,588 L935.75,619.5 M951.25,588 L978.75,641.25 M916.25,681.25 L822.5,581.25 M916.25,681.25 L973.75,668.75 M1076.25,710 L1048.25,762.5"/>
</g>
<g>
<rect class="w" x="1196.8" y="143.8" width="43.5" height="17.5"/>
<rect class="w" x="1291.5" y="193.0" width="43.5" height="17.5"/>
<rect class="w" x="1312.2" y="345.0" width="43.5" height="17.5"/>
<rect class="w" x="1298.5" y="475.0" width="43.5" height="17.5"/>
<rect class="w" x="1075.5" y="486.2" width="43.5" height="17.5"/>
<rect class="w" x="1175.5" y="516.2" width="43.5" height="17.5"/>
<rect class="w" x="681.6" y="172.3" width="43.5" height="17.5"/>
<rect class="w" x="816.0" y="278.8" width="43.5" height="17.5"/>
<rect class="w" x="839.8" y="458.8" width="43.5" height="17.5"/>
<rect class="w" x="479.2" y="326.2" width="43.5" height="17.5"/>
<rect class="w" x="590.5" y="343.0" width="43.5" height="17.5"/>
<rect class="w" x="714.0" y="343.0" width="43.5" height="17.5"/>
<rect class="w" x="380.8" y="431.2" width="43.5" height="17.5"/>
<rect class="w" x="607.8" y="441.2" width="43.5" height="17.5"/>
<rect class="w" x="501.0" y="495.5" width="43.5" height="17.5"/>
<rect class="w" x="634.8" y="529.5" width="43.5" height="17.5"/>
<rect class="w" x="946.0" y="563.2" width="43.5" height="17.5"/>
<rect class="w" x="901.5" y="688.2" width="43.5" height="17.5"/>
<rect class="w" x="853.5" y="736.8" width="43.5" height="17.5"/>
<rect class="w" x="1058.5" y="686.2" width="43.5" height="17.5"/>
<rect class="w" x="1083.7" y="764.3" width="43.5" height="17.5"/>
<rect class="w" x="1044.2" y="819.1" width="43.5" height="17.5"/>
<rect class="w" x="1012.8" y="841.3" width="43.5" height="17.5"/>
<rect class="w" x="966.5" y="858.6" width="43.5" height="17.5"/>
<rect class="w" x="318.5" y="607.5" width="43.5" height="17.5"/>
<rect class="w" x="499.2" y="811.2" width="43.5" height="17.5"/>
<rect class="w" x="635.2" y="848.8" width="43.5" height="17.5"/>
<rect class="w" x="506.5" y="885.6" width="43.5" height="17.5"/>
<rect class="w" x="575.7" y="909.2" width="43.5" height="17.5"/>
<rect class="w" x="760.5" y="887.0" width="43.5" height="17.5"/>
<rect class="w" x="419.8" y="830.0" width="43.5" height="17.5"/>
<rect class="w" x="374.8" y="881.8" width="43.5" height="17.5"/>
<rect class="w" x="159.0" y="903.2" width="43.5" height="17.5"/>
</g>
<g opacity="0.999">
<text transform="translate(1197.45 159.35) scale(1.02 1)">0301</text>
<text transform="translate(1292.20 208.60) scale(1.02 1)">0304</text>
<text transform="translate(1312.95 360.00) scale(1.02 1)">0305</text>
<text transform="translate(1299.20 490.60) scale(1.02 1)">0306</text>
<text transform="translate(1076.20 502.55) scale(1.02 1)">0302</text>
<text transform="translate(1176.20 532.55) scale(1.02 1)">0303</text>
<text transform="translate(682.30 187.90) scale(1.02 1)">0326</text>
<text transform="translate(816.70 294.35) scale(1.02 1)">0324</text>
<text transform="translate(840.45 474.35) scale(1.02 1)">0325</text>
<text transform="translate(479.95 341.85) scale(1.02 1)">0315</text>
<text transform="translate(591.20 358.60) scale(1.02 1)">0313</text>
<text transform="translate(714.70 358.60) scale(1.02 1)">0307</text>
<text transform="translate(381.50 446.85) scale(1.02 1)">0314</text>
<text transform="translate(608.45 456.85) scale(1.02 1)">0312</text>
<text transform="translate(501.70 511.10) scale(1.02 1)">0307</text>
<text transform="translate(636.30 545.10) scale(1.02 1)">0311</text>
<text transform="translate(946.70 579.55) scale(1.02 1)">0308</text>
<text transform="translate(902.20 704.55) scale(1.02 1)">0309</text>
<text transform="translate(854.20 752.65) scale(1.02 1)">0310</text>
<text transform="translate(1059.20 702.15) scale(1.02 1)">0318</text>
<text transform="translate(1084.40 780.20) scale(1.02 1)">0322</text>
<text transform="translate(1044.90 833.80) scale(1.02 1)">0319</text>
<text transform="translate(1013.50 855.70) scale(1.02 1)">0320</text>
<text transform="translate(967.20 873.40) scale(1.02 1)">0321</text>
<text transform="translate(319.20 622.50) scale(1.02 1)">0327</text>
<text transform="translate(499.95 826.85) scale(1.02 1)">0316</text>
<text transform="translate(635.95 864.35) scale(1.02 1)">0317</text>
<text transform="translate(507.20 900.60) scale(1.02 1)">0305</text>
<text transform="translate(576.40 924.80) scale(1.02 1)">0306</text>
<text transform="translate(761.20 902.60) scale(1.02 1)">0306</text>
<text transform="translate(420.45 845.60) scale(1.02 1)">0302</text>
<text transform="translate(375.45 897.35) scale(1.02 1)">0303</text>
<text transform="translate(159.70 918.85) scale(1.02 1)">0323</text>
<text transform="translate(14.3 997.4) scale(1.028 1)" style="font-size:20px">58300000107282 aet 000 c 3/6</text>
</g>
<!--/L-->
</svg>
</body></html>
